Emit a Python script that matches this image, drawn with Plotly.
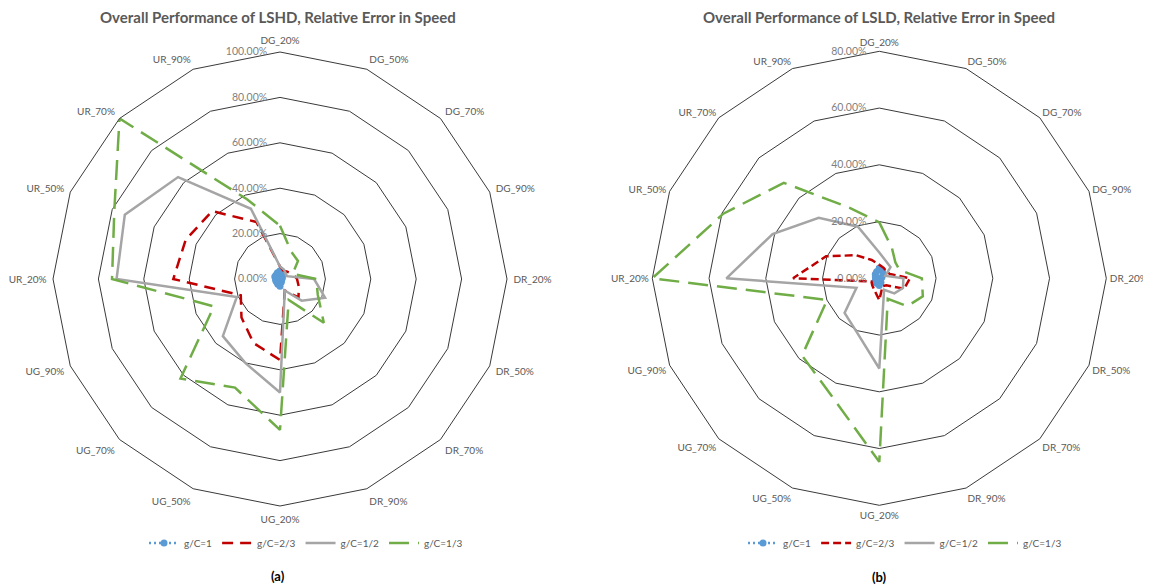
import plotly.graph_objects as go

categories = ["DG_20%", "DG_50%", "DG_70%", "DG_90%", "DR_20%", "DR_50%", "DR_70%", "DR_90%",
              "UG_20%", "UG_50%", "UG_70%", "UG_90%", "UR_20%", "UR_50%", "UR_70%", "UR_90%"]

series_names = ["g/C=1", "g/C=2/3", "g/C=1/2", "g/C=1/3"]

# (a) LSHD, relative error in speed (%)
lshd_gc1 = [3.5, 2.5, 1.5, 1.0, 0.8, 0.8, 0.8, 1.5, 3.2, 2.5, 2.0, 2.0, 2.0, 2.5, 2.5, 3.0]
lshd_gc23 = [5.5, 4.0, 4.5, 6.0, 7.5, 9.0, 11.5, 5.5, 35.7, 30.5, 24.0, 18.7, 47.0, 45.0, 42.3, 27.2]
lshd_gc12 = [5.5, 4.5, 3.5, 3.3, 15.0, 21.5, 13.5, 5.5, 50.0, 40.0, 35.6, 20.6, 72.0, 74.0, 63.5, 33.5]
lshd_gc13 = [23.5, 13.0, 11.2, 6.0, 16.0, 18.0, 27.3, 10.0, 66.5, 51.8, 62.0, 31.5, 74.0, 79.0, 100.0, 38.0]

# (b) LSLD, relative error in speed (%)
lsld_gc1 = [3.5, 3.0, 2.0, 1.0, 0.5, 0.5, 0.5, 1.5, 2.5, 2.0, 2.0, 1.5, 1.2, 1.5, 2.0, 2.5]
lsld_gc23 = [4.8, 4.0, 3.5, 4.0, 10.8, 9.5, 3.5, 3.0, 7.7, 4.5, 3.5, 3.0, 30.4, 20.3, 11.5, 7.0]
lsld_gc12 = [9.1, 6.4, 5.6, 2.3, 8.5, 9.0, 7.5, 4.4, 31.8, 20.6, 17.3, 8.7, 53.9, 40.7, 30.2, 19.7]
lsld_gc13 = [19.7, 11.6, 8.0, 7.7, 15.0, 16.6, 13.9, 7.8, 64.7, 44.5, 38.5, 19.9, 80.0, 59.5, 47.6, 26.8]

ticks_a = [0, 20, 40, 60, 80, 100]
tick_labels_a = ["0.00%", "20.00%", "40.00%", "60.00%", "80.00%", "100.00%"]
ticks_b = [0, 20, 40, 60, 80]
tick_labels_b = ["0.00%", "20.00%", "40.00%", "60.00%", "80.00%"]

title_a = "Overall Performance of LSHD, Relative Error in Speed"
title_b = "Overall Performance of LSLD, Relative Error in Speed"

# page body has an 8px default margin -> figure is drawn offset by 8px
OFF = 8
W, H = 1151 - OFF, 588 - OFF
FONT = "Lato"
GREY_TXT = "#595959"
PAD = "\u00a0\u00a0\u00a0\u00a0"  # keeps radial labels clear of the axis, like the original


def px(x):
    return (x - OFF) / W


def py(y):
    return 1 - (y - OFF) / H


def closed(v):
    return list(v) + [v[0]]


theta = closed(categories)

styles_a = [
    dict(color="#5B9BD5", dash="2px,3px", width=2.5, marker=True),
    dict(color="#C00000", dash="11px,7px", width=2.5, marker=False),
    dict(color="#A5A5A5", dash="solid", width=2.5, marker=False),
    dict(color="#70AD47", dash="20px,9px", width=2.5, marker=False),
]
styles_b = [
    dict(color="#5B9BD5", dash="2px,3px", width=2.5, marker=True),
    dict(color="#C00000", dash="8px,4px", width=2.5, marker=False),
    dict(color="#A5A5A5", dash="solid", width=2.5, marker=False),
    dict(color="#70AD47", dash="20px,9px", width=2.5, marker=False),
]

fig = go.Figure()

for subplot, legend, data, styles in [
    ("polar", "legend", [lshd_gc1, lshd_gc23, lshd_gc12, lshd_gc13], styles_a),
    ("polar2", "legend2", [lsld_gc1, lsld_gc23, lsld_gc12, lsld_gc13], styles_b),
]:
    for name, vals, st in zip(series_names, data, styles):
        fig.add_trace(go.Scatterpolar(
            r=closed(vals), theta=theta, name=name,
            mode="lines+markers" if st["marker"] else "lines",
            line=dict(color=st["color"], dash=st["dash"], width=st["width"]),
            marker=dict(size=7, color=st["color"]) if st["marker"] else None,
            subplot=subplot, legend=legend, cliponaxis=False,
        ))


def to_dom(cx, cy, rad):
    return dict(x=[px(cx - rad), px(cx + rad)],
                y=[py(cy + rad), py(cy - rad)])


def polar_layout(dom, ticks, labels, ticklen):
    return dict(
        domain=dom,
        bgcolor="white",
        gridshape="linear",
        angularaxis=dict(
            rotation=90, direction="clockwise",
            showgrid=False, showline=True, linecolor="#3a3a3a", linewidth=1,
            ticks="outside", ticklen=ticklen, tickcolor="rgba(0,0,0,0)",
            tickfont=dict(family=FONT, size=10, color=GREY_TXT),
        ),
        radialaxis=dict(
            range=[ticks[0], ticks[-1]], tickvals=ticks,
            ticktext=[t + PAD for t in labels],
            showline=False, ticks="", angle=90, tickangle=90,
            side="counterclockwise",
            gridcolor="#3a3a3a", gridwidth=1,
            tickfont=dict(family=FONT, size=10.5, color="#7f7f7f"),
        ),
    )


legend_common = dict(orientation="h", xanchor="center", yanchor="middle",
                     font=dict(family=FONT, size=10, color=GREY_TXT),
                     bgcolor="rgba(0,0,0,0)", itemwidth=30, tracegroupgap=0)

fig.update_layout(
    width=W, height=H,
    margin=dict(l=0, r=0, t=0, b=0),
    paper_bgcolor="white",
    polar=polar_layout(to_dom(280, 279, 227), ticks_a, tick_labels_a, 4),
    polar2=polar_layout(to_dom(879.3, 278.3, 227), ticks_b, tick_labels_b, 1),
    legend=dict(x=px(306), y=py(543), **legend_common),
    legend2=dict(x=px(905), y=py(543), **legend_common),
    annotations=[
        dict(text="<b>" + title_a + "</b>", x=px(278), y=py(17), xref="paper", yref="paper",
             showarrow=False, xanchor="center", yanchor="middle",
             font=dict(family=FONT, size=15, color=GREY_TXT)),
        dict(text="<b>" + title_b + "</b>", x=px(879), y=py(17), xref="paper", yref="paper",
             showarrow=False, xanchor="center", yanchor="middle",
             font=dict(family=FONT, size=15, color=GREY_TXT)),
        dict(text="<b>(a)</b>", x=px(278), y=py(576), xref="paper", yref="paper",
             showarrow=False, xanchor="center", yanchor="middle",
             font=dict(family=FONT, size=13, color="black")),
        dict(text="<b>(b)</b>", x=px(879), y=py(577), xref="paper", yref="paper",
             showarrow=False, xanchor="center", yanchor="middle",
             font=dict(family=FONT, size=13, color="black")),
    ],
)

fig.write_html("out.html")
